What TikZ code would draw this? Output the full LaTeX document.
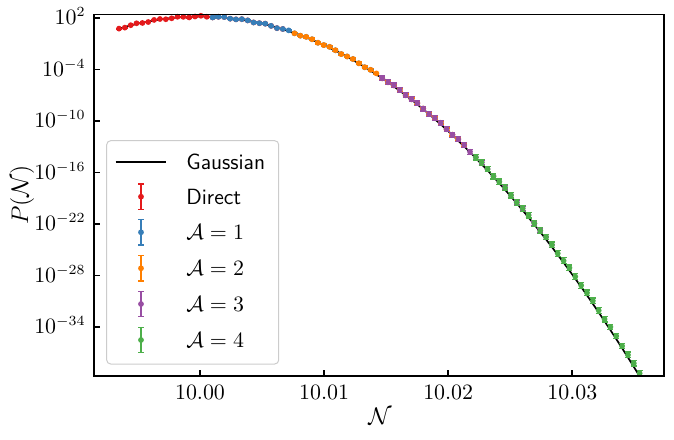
\documentclass[tikz,border=0pt]{standalone}
\usepackage{amsmath,amssymb}
\usepackage{xcolor}
\usepackage{tikz}
\definecolor{cred}{HTML}{E41A1C}
\definecolor{cblue}{HTML}{377EB8}
\definecolor{corange}{HTML}{FF7F00}
\definecolor{cpurple}{HTML}{984EA3}
\definecolor{cgreen}{HTML}{4DAF4A}
\tikzset{frame/.style={line width=0.9pt},
  gauss/.style={line width=0.85pt,black},
  bar/.style={draw=#1,line width=0.6pt},
  lab/.style={font=\fontsize{10.5}{12}\selectfont,inner sep=0pt},
  leglab/.style={font=\fontsize{11}{13}\selectfont,inner sep=0pt},
  axlab/.style={font=\fontsize{12}{14}\selectfont,inner sep=0pt},
  legbox/.style={draw=black!20,fill=white,line width=0.5pt,rounded corners=2pt}}
\newcommand\errpt[4]{%
  \draw[bar=#1] (#2,#3-#4) -- (#2,#3+#4) (#2-3,#3-#4) -- (#2+3,#3-#4) (#2-3,#3+#4) -- (#2+3,#3+#4);
  \fill[#1] (#2,#3) circle[radius=1.45pt];}

\begin{document}
\begin{tikzpicture}[x=0.5pt,y=-0.5pt]
    \useasboundingbox (0,0) rectangle (674,439);

    % gaussian curve
    \begin{scope}
    \clip (94,14.5) rectangle (664,375.7);
    \draw [gauss] plot[domain=-82:445,samples=120] ({200+\x},{16.5+0.00186*\x*\x});
    \end{scope}

    % data sets
    \foreach \c/\ka/\kb/\h in {cred/0/28/0.5, cblue/16/43/0.7, corange/30/59/1.2, cpurple/45/74/2.4, cgreen/61/89/2.8}{
      \foreach \k in {\ka,...,\kb}{
        \pgfmathsetmacro\uu{119+5.85*\k-200}
        \pgfmathsetmacro\vv{16.5+0.00184*\uu*\uu+0.7*sin(97*\k)}
        \errpt{\c}{\uu+200}{\vv}{\h}
      }
    }

    % legend
    \draw [legbox] (106.7,140.7) rectangle (278.7,364);
    \coordinate (ga) at (115.7,162.3);
    \coordinate (gb) at (165.7,162.3);
    \draw [gauss] (ga) -- (gb);
    \node[leglab,anchor=west] (lg0) at (186,162.3) {\textsf{Gaussian}};
    \foreach \c/\ly/\txt [count=\i] in {cred/196.7/\textsf{Direct}, cblue/232.3/$\mathcal{A}=1$, corange/268.3/$\mathcal{A}=2$, cpurple/304/$\mathcal{A}=3$, cgreen/340/$\mathcal{A}=4$}{
      \errpt{\c}{141}{\ly}{12.7}
      \node[leglab,anchor=west] (lg\i) at (186,\ly) {\txt};
    }

    % axes
    \draw [frame] (94,14.5) rectangle (664,375.7);
    \foreach \e [count=\i from 0] in {2,-4,-10,-16,-22,-28,-34}{
      \pgfmathsetmacro\ty{18+51.5*\i}
      \draw [frame] (94,\ty) -- (100,\ty);
      \node[lab,anchor=base east] (yl\i) at (86,\ty+6.8) {$10^{\e}$};
    }
    \foreach \xt [count=\i from 0] in {10.00,10.01,10.02,10.03}{
      \pgfmathsetmacro\tx{200+124.1*\i}
      \draw [frame] (\tx,375.7) -- (\tx,369.5);
      \node[lab,anchor=base] (xl\i) at (\tx,399.8) {$\xt$};
    }
    \node[axlab] (xlab) at (380,416.7) {$\mathcal{N}$};
    \node[axlab,rotate=90] (ylab) at (22,195) {$P(\mathcal{N})$};
\end{tikzpicture}
\end{document}
